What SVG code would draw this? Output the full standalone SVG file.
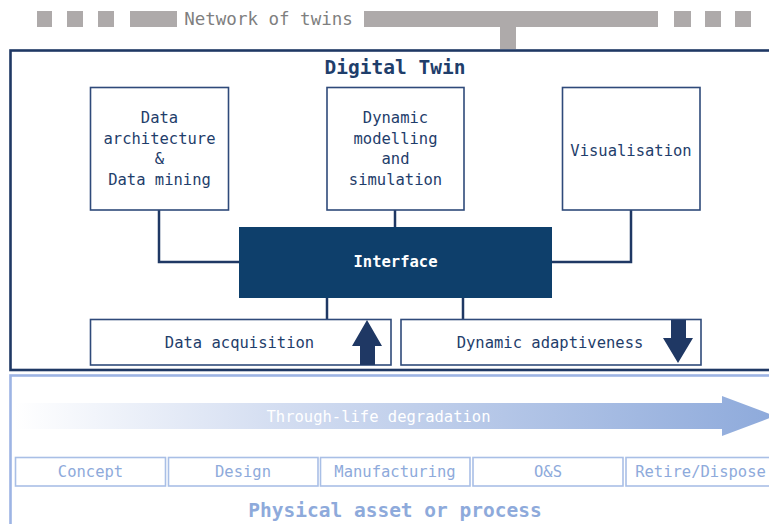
<svg xmlns="http://www.w3.org/2000/svg" width="769" height="524" viewBox="0 0 769 524">
<defs>
<linearGradient id="grad" x1="15" y1="0" x2="775" y2="0" gradientUnits="userSpaceOnUse">
<stop offset="0" stop-color="#ffffff"/>
<stop offset="0.35" stop-color="#d3ddf1"/>
<stop offset="1" stop-color="#8eaadb"/>
</linearGradient>
<style>
text{font-family:"DejaVu Sans Mono","Liberation Mono",monospace;text-anchor:middle}
.box{fill:#ffffff;stroke:#2f4a7a;stroke-width:1.6}
.bt{font-size:15.5px;fill:#1f3e6b}
.conn{fill:none;stroke:#1f3864;stroke-width:2.5}
.sq{fill:#aeaaaa}
.life{fill:#ffffff;stroke:#a9bfe6;stroke-width:1.6}
.lt{font-size:15.5px;fill:#8eaadb}
.arr{fill:#1f3864}
</style>
</defs>
<rect width="769" height="524" fill="#ffffff"/>
<g id="network">
<rect class="sq" x="37" y="11" width="15" height="16"/>
<rect class="sq" x="67" y="11" width="16" height="16"/>
<rect class="sq" x="98" y="11" width="16" height="16"/>
<rect class="sq" x="130" y="11" width="47" height="16"/>
<text x="268.5" y="25" style="font-size:17.5px;fill:#7f7f7f">Network of twins</text>
<rect class="sq" x="364" y="11" width="294" height="16"/>
<rect class="sq" x="500" y="27" width="16" height="22"/>
<rect class="sq" x="674" y="11" width="17" height="16"/>
<rect class="sq" x="705" y="11" width="16" height="16"/>
<rect class="sq" x="735" y="11" width="16" height="16"/>
</g>
<g id="digital-twin">
<rect x="10.5" y="50.5" width="770" height="319.5" fill="#ffffff" stroke="#1f3864" stroke-width="2.6"/>
<text x="395" y="74" style="font-size:19.5px;font-weight:bold;fill:#1f3e6b">Digital Twin</text>
</g>
<g id="physical">
<rect x="10.5" y="375.5" width="770" height="160" fill="#ffffff" stroke="#9db4e4" stroke-width="2.6"/>
<text x="395" y="517" style="font-size:19.5px;font-weight:bold;fill:#8eaadb">Physical asset or process</text>
</g>
<g id="connectors">
<polyline class="conn" points="159,210 159,262 239,262"/>
<line class="conn" x1="395" y1="210" x2="395" y2="227"/>
<polyline class="conn" points="631,210 631,262 552,262"/>
<line class="conn" x1="327" y1="298" x2="327" y2="319"/>
<line class="conn" x1="463" y1="298" x2="463" y2="319"/>
</g>
<g id="data-architecture">
<rect class="box" x="90.5" y="87.5" width="138" height="122.5"/>
<text class="bt" x="159.5" y="123">Data</text>
<text class="bt" x="159.5" y="144">architecture</text>
<text class="bt" x="159.5" y="164">&amp;</text>
<text class="bt" x="159.5" y="185">Data mining</text>
</g>
<g id="dynamic-modelling">
<rect class="box" x="327" y="87.5" width="137" height="122.5"/>
<text class="bt" x="395.5" y="123">Dynamic</text>
<text class="bt" x="395.5" y="144">modelling</text>
<text class="bt" x="395.5" y="164">and</text>
<text class="bt" x="395.5" y="185">simulation</text>
</g>
<g id="visualisation">
<rect class="box" x="562.5" y="87.5" width="137.5" height="122.5"/>
<text class="bt" x="631" y="156">Visualisation</text>
</g>
<g id="interface">
<rect x="239" y="227" width="313" height="71" fill="#0e3f6b"/>
<text x="395.5" y="267" style="font-size:15.5px;font-weight:bold;fill:#ffffff">Interface</text>
</g>
<g id="data-acquisition">
<rect class="box" x="90.5" y="319.5" width="300.5" height="45.5"/>
<text class="bt" x="239.5" y="348">Data acquisition</text>
<polygon class="arr" points="367,320 382,346 375,346 375,365 360,365 360,346 352,346"/>
</g>
<g id="dynamic-adaptiveness">
<rect class="box" x="401" y="319.5" width="300" height="45.5"/>
<text class="bt" x="550" y="348">Dynamic adaptiveness</text>
<polygon class="arr" points="671,320 686,320 686,338 693,338 678,363 663,338 671,338"/>
</g>
<g id="degradation">
<polygon points="15,403 722,403 722,396 775,416 722,436 722,429 15,429" fill="url(#grad)"/>
<text x="378.5" y="422" style="font-size:15.5px;fill:#ffffff">Through-life degradation</text>
</g>
<g id="concept">
<rect class="life" x="15.5" y="457.5" width="150" height="28.5"/>
<text class="lt" x="90.5" y="477">Concept</text>
</g>
<g id="design">
<rect class="life" x="168.5" y="457.5" width="149.5" height="28.5"/>
<text class="lt" x="243" y="477">Design</text>
</g>
<g id="manufacturing">
<rect class="life" x="320.5" y="457.5" width="149.5" height="28.5"/>
<text class="lt" x="395" y="477">Manufacturing</text>
</g>
<g id="os">
<rect class="life" x="473" y="457.5" width="150" height="28.5"/>
<text class="lt" x="548" y="477">O&amp;S</text>
</g>
<g id="retire">
<rect class="life" x="626" y="457.5" width="150" height="28.5"/>
<text class="lt" x="700.5" y="477">Retire/Dispose</text>
</g>
</svg>
